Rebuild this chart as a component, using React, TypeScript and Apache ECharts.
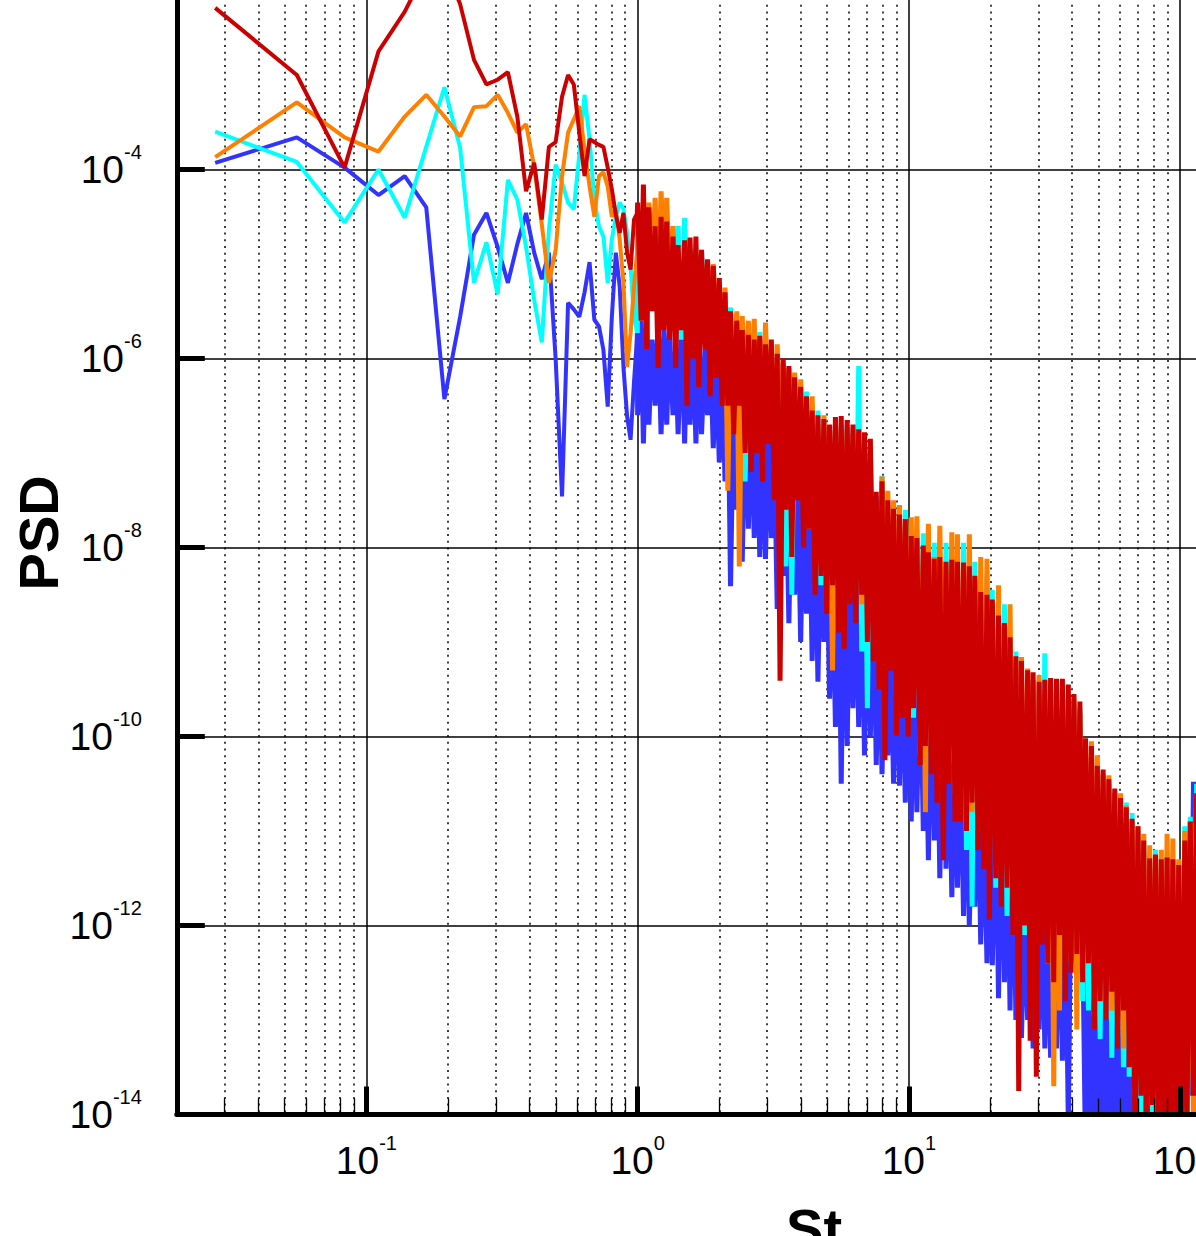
import React, { useEffect, useRef } from "react";
import * as echarts from "echarts";

const FONT = '"Liberation Sans", Arial, Helvetica, sans-serif';

// Strouhal number of the first spectral bins (bin width about 0.0277)
const stSparse = [
  0.0277, 0.0554, 0.0831, 0.1108, 0.1385, 0.1662, 0.1939, 0.2216, 0.2493, 0.277,
  0.3047, 0.3324, 0.3601, 0.3878, 0.4155, 0.4432, 0.4709, 0.4986, 0.5263, 0.554,
  0.5817, 0.6094, 0.6371, 0.6648, 0.6925, 0.7202, 0.7479, 0.7756, 0.8033, 0.831,
  0.8587, 0.8864, 0.9141, 0.9418, 0.9695, 0.9972,
];

// Strouhal numbers at which the dense (St > 1) part was read
const stDense = [
  1.00, 1.03, 1.05, 1.08, 1.10, 1.13, 1.16, 1.19, 1.22, 1.25,
  1.28, 1.31, 1.35, 1.38, 1.41, 1.45, 1.49, 1.52, 1.56, 1.60,
  1.64, 1.68, 1.72, 1.77, 1.81, 1.85, 1.90, 1.95, 2.00, 2.05,
  2.10, 2.15, 2.20, 2.26, 2.32, 2.37, 2.43, 2.49, 2.56, 2.62,
  2.69, 2.75, 2.82, 2.89, 2.96, 3.04, 3.11, 3.19, 3.27, 3.35,
  3.44, 3.52, 3.61, 3.70, 3.79, 3.89, 3.99, 4.09, 4.19, 4.29,
  4.40, 4.51, 4.62, 4.74, 4.86, 4.98, 5.10, 5.23, 5.36, 5.50,
  5.63, 5.77, 5.92, 6.07, 6.22, 6.37, 6.53, 6.70, 6.86, 7.03,
  7.21, 7.39, 7.58, 7.76, 7.96, 8.16, 8.36, 8.57, 8.78, 9.00,
  9.23, 9.46, 9.70, 9.94, 10.2, 10.4, 10.7, 11.0, 11.3, 11.5,
  11.8, 12.1, 12.4, 12.7, 13.0, 13.4, 13.7, 14.0, 14.4, 14.8,
  15.1, 15.5, 15.9, 16.3, 16.7, 17.1, 17.5, 18.0, 18.4, 18.9,
  19.4, 19.8, 20.3, 20.9, 21.4, 21.9, 22.5, 23.0, 23.6, 24.2,
  24.8, 25.4, 26.0, 26.7, 27.4, 28.0, 28.7, 29.5, 30.2, 31.0,
  31.7, 32.5, 33.3, 34.2, 35.0, 35.9, 36.8, 37.7, 38.7, 39.6,
  40.6, 41.6, 42.7, 43.7, 44.8, 45.9, 47.1, 48.3, 49.5, 50.7,
  52.0, 53.3, 54.6, 56.0, 57.4, 58.8, 60.3, 61.8, 63.3, 64.9,
  66.5, 68.2, 69.9, 71.7, 73.4, 75.3, 77.2, 79.1, 81.1, 83.1,
  85.2, 87.3, 89.5, 91.7, 94.0, 96.4, 98.8, 101, 104, 106,
  109, 112, 115, 117, 120, 123,
];

// PSD values, stored as log10(PSD)
const blueSparse = [
  -3.93, -3.66, -3.98, -4.27, -4.07, -4.4, -6.43, -5.56, -4.69, -4.46,
  -4.82, -5.2, -4.79, -4.46, -4.88, -5.16, -4.88, -6.01, -7.46, -5.41,
  -5.48, -5.56, -5.3, -4.98, -5.59, -5.66, -5.91, -6.51, -5.56, -4.88,
  -5.24, -6.09, -6.61, -6.86, -6.25, -5.73,
];
const cyanSparse = [
  -3.6, -3.92, -4.56, -4.0, -4.51, -3.76, -3.13, -3.77, -5.2, -4.77,
  -5.32, -4.11, -4.32, -4.82, -5.38, -5.83, -4.64, -3.95, -4.14, -4.35,
  -4.42, -3.84, -3.21, -3.68, -4.32, -4.6, -4.71, -5.2, -4.74, -4.5,
  -4.35, -4.42, -4.67, -5.03, -5.56, -5.73,
];
const orangeSparse = [
  -3.87, -3.29, -3.66, -3.81, -3.44, -3.21, -3.44, -3.65, -3.34, -3.33,
  -3.21, -3.4, -3.61, -3.52, -3.97, -4.58, -5.2, -4.85, -4.07, -3.61,
  -3.47, -3.33, -3.79, -4.18, -4.5, -4.07, -4.03, -4.18, -4.5, -4.42,
  -4.74, -5.2, -6.09, -5.73, -5.24, -4.85,
];
const redSparse = [
  -2.29, -3.0, -3.98, -2.75, -2.33, -1.88, -1.83, -2.25, -2.84, -3.1,
  -3.05, -2.97, -3.44, -4.23, -3.93, -4.53, -3.76, -3.71, -3.23, -3.0,
  -3.1, -3.61, -4.07, -3.68, -3.71, -3.74, -3.76, -3.98, -4.21, -4.48,
  -4.67, -4.46, -4.88, -5.06, -4.53, -4.46,
];

const blueDense = [
  -6.6, -5.6, -6.9, -5.5, -6.7, -5.8, -6.5, -5.6, -6.8, -5.7,
  -6.7, -5.7, -6.6, -5.9, -6.8, -5.6, -6.9, -5.8, -6.7, -5.7,
  -6.9, -5.7, -6.8, -5.9, -6.6, -5.8, -6.95, -6.0, -7.1, -6.1,
  -7.3, -6.1, -8.41, -6.3, -7.6, -6.2, -8.15, -6.5, -7.8, -6.4,
  -7.9, -6.5, -8.1, -6.7, -8.12, -6.6, -7.9, -6.9, -8.65, -6.8,
  -8.3, -7.0, -8.8, -7.1, -8.5, -7.2, -9.0, -7.35, -8.7, -7.4,
  -9.2, -7.5, -9.42, -7.7, -9.0, -7.9, -9.6, -8.1, -9.9, -8.0,
  -10.5, -8.0, -10.1, -8.05, -9.7, -8.1, -9.9, -8.2, -10.2, -8.3,
  -10.0, -8.3, -10.3, -8.6, -10.4, -8.8, -10.2, -8.97, -10.5, -9.0,
  -10.52, -8.95, -10.7, -9.02, -10.9, -9.1, -10.8, -9.05, -11.0, -9.2,
  -11.31, -9.15, -11.1, -9.4, -11.5, -9.6, -11.4, -9.84, -11.7, -9.9,
  -11.6, -10.05, -11.9, -10.4, -12.0, -10.66, -11.8, -10.48, -12.2, -10.7,
  -12.4, -10.42, -12.42, -10.6, -12.77, -10.55, -12.6, -10.7, -12.9, -10.68,
  -13.0, -10.8, -13.19, -11.79, -13.0, -11.2, -13.3, -11.08, -13.1, -11.5,
  -13.3, -11.85, -13.4, -11.6, -13.3, -11.5, -13.43, -11.42, -14.1, -11.4,
  -12.2, -11.66, -12.5, -12.0, -14.5, -12.14, -14.6, -12.96, -14.5, -12.6,
  -14.6, -12.37, -14.6, -12.6, -14.6, -12.8, -14.6, -13.03, -14.6, -12.9,
  -14.6, -12.85, -14.6, -13.19, -14.6, -13.3, -14.6, -13.4, -14.6, -13.5,
  -14.6, -13.6, -14.6, -13.7, -14.6, -13.5, -14.6, -13.2, -14.3, -11.6,
  -13.8, -10.48, -13.5, -10.2, -13.0, -10.0,
];
const cyanDense = [
  -4.6, -5.3, -4.55, -5.6, -4.7, -5.2, -4.65, -5.5, -4.8, -5.4,
  -4.9, -5.6, -4.75, -5.4, -4.6, -5.8, -4.51, -5.5, -4.85, -5.9,
  -4.9, -5.7, -4.85, -5.6, -5.05, -6.0, -5.1, -5.8, -5.2, -6.1,
  -5.4, -6.2, -5.46, -6.4, -5.7, -6.6, -5.8, -7.3, -5.7, -6.8,
  -5.9, -6.8, -5.72, -7.1, -5.9, -6.6, -5.85, -7.2, -6.0, -6.9,
  -6.05, -8.2, -6.15, -8.5, -6.3, -7.4, -6.35, -7.2, -6.35, -7.6,
  -6.5, -8.0, -6.55, -8.4, -6.7, -7.9, -6.75, -8.6, -6.7, -8.3,
  -6.7, -8.2, -6.7, -8.0, -6.75, -8.4, -6.08, -9.1, -6.85, -9.7,
  -6.95, -8.8, -7.45, -9.2, -7.24, -9.4, -7.55, -9.0, -7.6, -9.6,
  -7.7, -9.5, -7.6, -9.4, -7.95, -9.8, -7.8, -9.6, -7.85, -10.0,
  -8.1, -9.9, -7.95, -10.2, -8.15, -10.4, -7.95, -10.0, -8.2, -10.6,
  -8.2, -10.7, -7.95, -11.2, -8.3, -11.8, -8.15, -11.0, -8.5, -11.1,
  -8.3, -11.3, -8.45, -11.6, -8.8, -11.2, -8.6, -11.9, -9.0, -11.5,
  -9.1, -11.6, -9.3, -12.1, -9.35, -11.8, -9.45, -12.3, -9.5, -12.0,
  -9.12, -12.4, -9.5, -12.2, -9.45, -12.6, -9.5, -12.0, -9.6, -12.2,
  -9.65, -12.5, -9.7, -12.8, -10.1, -12.9, -10.15, -12.8, -10.35, -13.2,
  -10.4, -13.0, -10.5, -13.4, -10.6, -13.2, -10.7, -13.5, -10.7, -13.6,
  -10.81, -13.8, -11.0, -14.0, -11.06, -13.9, -11.35, -14.2, -11.2, -14.3,
  -11.3, -14.1, -11.25, -14.5, -11.3, -13.9, -11.35, -14.4, -10.95, -13.9,
  -10.85, -13.5, -10.5, -13.0, -10.25, -12.8,
];
const orangeDense = [
  -4.45, -5.0, -4.5, -5.3, -4.35, -5.1, -4.3, -5.4, -4.23, -5.0,
  -4.3, -5.2, -4.6, -5.3, -4.9, -5.1, -4.95, -5.5, -4.85, -5.2,
  -4.9, -5.4, -5.0, -5.5, -4.98, -5.7, -5.0, -5.6, -5.2, -5.9,
  -5.25, -7.4, -5.6, -6.3, -5.5, -8.2, -5.55, -6.5, -5.6, -6.7,
  -5.58, -6.6, -5.8, -6.9, -5.62, -6.7, -5.9, -7.0, -5.85, -6.8,
  -6.05, -7.2, -6.1, -7.5, -6.15, -7.3, -6.22, -7.6, -6.5, -7.8,
  -6.4, -7.9, -6.7, -8.2, -6.6, -7.8, -6.75, -9.3, -6.7, -8.0,
  -6.72, -8.1, -6.75, -8.4, -6.8, -8.3, -6.78, -8.6, -6.9, -8.5,
  -6.95, -8.7, -7.5, -8.9, -7.25, -9.0, -7.4, -9.1, -7.5, -9.2,
  -7.55, -9.3, -7.8, -9.6, -7.68, -9.4, -7.67, -10.2, -8.05, -10.8,
  -7.75, -10.0, -8.1, -9.8, -7.77, -10.1, -8.2, -10.3, -7.84, -10.5,
  -7.86, -10.6, -8.2, -10.4, -7.86, -10.8, -8.35, -11.0, -8.1, -10.9,
  -8.12, -11.2, -8.6, -11.0, -8.4, -11.5, -8.85, -11.3, -8.6, -11.7,
  -9.2, -11.6, -9.16, -11.4, -9.28, -11.8, -9.4, -12.0, -9.35, -11.9,
  -9.5, -12.3, -9.45, -13.7, -9.5, -12.9, -9.45, -12.0, -9.55, -12.4,
  -9.6, -13.1, -9.75, -12.3, -10.1, -12.4, -10.05, -12.6, -10.2, -12.8,
  -10.4, -12.5, -10.41, -12.9, -10.6, -13.1, -10.6, -13.3, -10.73, -13.0,
  -10.9, -13.5, -10.95, -13.6, -11.03, -13.7, -11.15, -13.9, -11.3, -13.8,
  -11.2, -14.1, -11.03, -14.0, -11.08, -14.2, -11.3, -14.4, -11.0, -14.3,
  -10.9, -14.0, -10.7, -13.6, -10.4, -13.3,
];
const redDense = [
  -4.35, -5.6, -4.16, -5.9, -4.4, -5.5, -4.6, -6.1, -4.5, -5.7,
  -4.55, -5.8, -4.71, -6.1, -4.8, -5.7, -4.75, -6.5, -4.72, -6.0,
  -4.71, -6.3, -4.85, -5.9, -4.95, -6.4, -5.02, -6.2, -5.15, -6.5,
  -5.3, -6.5, -5.5, -6.8, -5.6, -6.5, -5.7, -7.0, -5.75, -7.2,
  -5.8, -7.0, -5.76, -7.3, -5.85, -6.9, -5.8, -7.5, -5.95, -9.41,
  -6.0, -7.6, -6.08, -8.1, -6.2, -7.5, -6.3, -8.0, -6.4, -7.8,
  -6.55, -8.5, -6.6, -8.3, -6.64, -8.7, -6.7, -8.4, -6.62, -8.9,
  -6.61, -9.07, -6.65, -8.6, -6.7, -8.8, -6.75, -8.5, -6.78, -9.0,
  -6.85, -9.2, -7.41, -9.5, -7.3, -10.25, -7.5, -9.3, -7.59, -9.99,
  -7.65, -9.8, -7.7, -10.0, -7.88, -9.7, -7.9, -10.3, -7.98, -10.1,
  -8.05, -10.4, -8.12, -10.7, -8.1, -11.31, -8.15, -10.5, -8.13, -10.9,
  -8.15, -10.9, -8.16, -11.0, -8.2, -10.7, -8.3, -11.2, -8.47, -11.4,
  -8.5, -11.94, -8.55, -11.5, -8.72, -11.8, -8.8, -11.6, -8.95, -12.1,
  -9.15, -13.75, -9.2, -12.0, -9.3, -13.22, -9.32, -13.6, -9.42, -12.2,
  -9.4, -12.4, -9.38, -12.6, -9.39, -12.1, -9.39, -12.8, -9.45, -12.5,
  -9.55, -12.3, -9.63, -12.6, -10.02, -12.4, -10.1, -13.1, -10.31, -12.8,
  -10.35, -13.0, -10.45, -12.7, -10.55, -13.3, -10.65, -12.9, -10.75, -13.5,
  -10.87, -14.3, -10.95, -13.8, -11.1, -14.5, -11.29, -13.9, -11.25, -14.4,
  -11.3, -14.3, -11.28, -14.6, -11.3, -14.2, -11.36, -14.5, -11.1, -14.0,
  -10.9, -13.8, -10.6, -13.2, -10.3, -13.0,
];

// axis ticks (decade exponents)
const xDecades = [-1, 0, 1, 2, 3];
const yDecades = [-14, -12, -10, -8, -6, -4, -2];
const yLabelDecades = [-14, -12, -10, -8, -6, -4];
const minorFactors = [2, 3, 4, 5, 6, 7, 8, 9];

const X_MIN = Math.log10(0.02);
const X_MAX = 3;
const Y_MIN = -14;
const Y_MAX = -1.69;

const xMinor: number[] = [];
for (let n = -2; n <= 2; n++) {
  for (const m of minorFactors) {
    const v = n + Math.log10(m);
    if (v > X_MIN + 1e-6 && v < X_MAX) xMinor.push(v);
  }
}

const sparsePts = (sparse: number[]) => stSparse.map((f, i) => [Math.log10(f), sparse[i]]);
// the dense part starts from the last resolved bin so the curve stays joined
const densePts = (sparse: number[], dense: number[]) => [
  [Math.log10(stSparse[stSparse.length - 1]), sparse[sparse.length - 1]],
  ...stDense.map((f, i) => [Math.log10(f), dense[i]]),
];

const rich = {
  b: { fontSize: 39, fontFamily: FONT, color: "#000", lineHeight: 55 },
  s: { fontSize: 20, fontFamily: FONT, color: "#000", lineHeight: 20, verticalAlign: "top" },
};
const pow10 = (v: number) => `{b|10}{s|${Math.round(v)}}`;

const nameStyle = { fontSize: 56, fontWeight: "bold", fontFamily: FONT, color: "#000" };

const common = { min: X_MIN, max: X_MAX, type: "value", gridIndex: 0 };
const commonY = { min: Y_MIN, max: Y_MAX, type: "value", gridIndex: 0 };

const line = (name: string, color: string, data: number[][], width: number) => ({
  type: "line",
  name,
  data,
  showSymbol: false,
  symbol: "none",
  silent: true,
  clip: true,
  z: 2,
  lineStyle: { color, width, join: "bevel" },
  itemStyle: { color },
});

const curves = [
  { name: "blue", color: "#3333ff", sparse: blueSparse, dense: blueDense },
  { name: "cyan", color: "#00ffff", sparse: cyanSparse, dense: cyanDense },
  { name: "orange", color: "#ff8000", sparse: orangeSparse, dense: orangeDense },
  { name: "red", color: "#cc0000", sparse: redSparse, dense: redDense },
];

export default function App() {
  const ref = useRef<HTMLDivElement>(null);
  useEffect(() => {
    if (!ref.current) return;
    const chart = echarts.init(ref.current, undefined, { renderer: "svg" });
    const series: any[] = [];
    for (const c of curves) {
      series.push(line(c.name, c.color, sparsePts(c.sparse), 4));
      series.push(line(c.name + " (St>1)", c.color, densePts(c.sparse, c.dense), 5));
    }
    chart.setOption({
      animation: false,
      backgroundColor: "#fff",
      grid: { left: 176.8, top: 51.2, width: 1274.6, height: 1163.3, containLabel: false, outerBoundsMode: "none" },
      xAxis: [
        {
          ...common, position: "bottom", z: 0,
          axisLine: { show: false, onZero: false }, axisLabel: { show: false },
          axisTick: { show: false, customValues: xDecades },
          splitLine: { show: true, lineStyle: { color: "#000", width: 1.5 } },
        },
        {
          ...common, position: "bottom", z: 0,
          axisLine: { show: false, onZero: false }, axisLabel: { show: false },
          axisTick: { show: false, customValues: xMinor },
          splitLine: { show: true, lineStyle: { color: "#000", width: 1.5, type: [2, 4.7] } },
        },
        {
          ...common, position: "bottom", z: 5,
          axisLine: { show: true, onZero: false, lineStyle: { color: "#000", width: 5 } },
          axisTick: { show: true, inside: true, length: 28, customValues: xDecades, lineStyle: { color: "#000", width: 5 } },
          axisLabel: { show: true, customValues: xDecades, formatter: pow10, rich, margin: 18 },
          splitLine: { show: false },
          name: "St", nameLocation: "middle", nameGap: 86, nameTextStyle: nameStyle, nameMoveOverlap: false,
        },
        {
          ...common, position: "bottom", z: 5,
          axisLine: { show: false, onZero: false }, axisLabel: { show: false },
          axisTick: { show: true, inside: true, length: 16, customValues: xMinor, lineStyle: { color: "#000", width: 1.3 } },
          splitLine: { show: false },
        },
      ],
      yAxis: [
        {
          ...commonY, position: "left", z: 0,
          axisLine: { show: false, onZero: false }, axisLabel: { show: false },
          axisTick: { show: false, customValues: yDecades },
          splitLine: { show: true, lineStyle: { color: "#000", width: 1.5 } },
        },
        {
          ...commonY, position: "left", z: 5,
          axisLine: { show: true, onZero: false, lineStyle: { color: "#000", width: 5 } },
          axisTick: { show: true, inside: true, length: 28, customValues: yDecades, lineStyle: { color: "#000", width: 5 } },
          axisLabel: { show: true, customValues: yLabelDecades, formatter: pow10, rich, margin: 35 },
          splitLine: { show: false },
          name: "PSD", nameLocation: "middle", nameGap: 110, nameTextStyle: nameStyle, nameMoveOverlap: false,
        },
      ],
      series,
    });
    return () => chart.dispose();
  }, []);
  return (
    <div style={{ position: "fixed", left: 0, top: 0, width: 1196, height: 1236, overflow: "hidden", background: "#fff" }}>
      <div ref={ref} style={{ position: "absolute", left: 0, top: -100, width: 1500, height: 1400 }} />
    </div>
  );
}
